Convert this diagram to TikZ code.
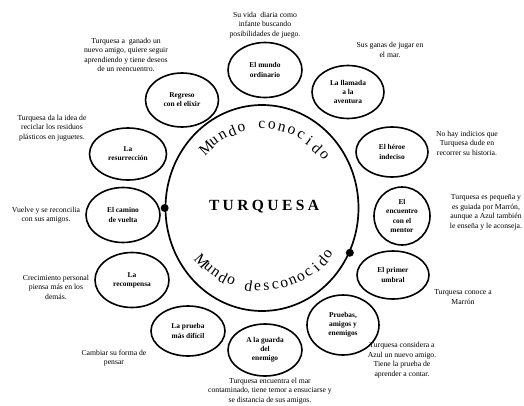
\documentclass[tikz,border=0pt]{standalone}
\usepackage{fontspec}
\setmainfont{Liberation Serif}
\usetikzlibrary{shapes.geometric}
\tikzset{
  stage/.style={ellipse, draw, line width=1.6pt, inner sep=0pt, align=center,
    font=\fontsize{7.4}{9.2}\selectfont\bfseries},
  note/.style={align=center, inner sep=0pt, font=\fontsize{7.7}{9.5}\selectfont},
  arcletter/.style={inner sep=0pt, font=\fontsize{15.5}{17}\selectfont},
  world/.style={ellipse, draw, line width=1.7pt, inner sep=0pt}
}
\begin{document}
\begin{tikzpicture}[x=1pt,y=1pt]
\useasboundingbox (0,0) rectangle (524,-406);

% central circle
\node[world, minimum width=193, minimum height=206] (world) at (262,-208) {};
\fill (world.west) circle (4);
\fill (world.-27) circle (4);
\node[font=\fontsize{15.5}{18}\selectfont\bfseries\addfontfeature{LetterSpace=22}] (title) at (264,-207) {TURQUESA};

% arc texts
\foreach \ch [count=\i from 0] in {M,u,n,d,o,{},c,o,n,o,c,i,d,o}{
  \pgfmathsetmacro\a{134-\i*7.3}
  \node[arcletter, rotate={\a-90}] (top\i) at ({262+80*cos(\a)},{-208+83*sin(\a)}) {\ch};
}
\foreach \ch [count=\i from 0] in {M,u,n,d,o,{},d,e,s,c,o,n,o,c,i,d,o}{
  \pgfmathsetmacro\a{222+\i*6.4}
  \node[arcletter, rotate={\a+90}] (bot\i) at ({262+81*cos(\a)},{-208+79*sin(\a)}) {\ch};
}

% stages
\node[stage, minimum width=74, minimum height=55] (s1) at (265,-70) {El mundo\\ordinario};
\node[stage, minimum width=72, minimum height=53] (s2) at (348,-92) {La llamada\\a la\\aventura};
\node[stage, minimum width=72, minimum height=50] (s3) at (392,-152) {El héroe\\indeciso};
\node[stage, minimum width=56, minimum height=58] (s4) at (402,-216) {El\\encuentro\\con el\\mentor};
\node[stage, minimum width=72, minimum height=48] (s5) at (393,-275) {El primer\\umbral};
\node[stage, minimum width=72, minimum height=60] (s6) at (343,-325) {Pruebas,\\amigos y\\enemigos};
\node[stage, minimum width=74, minimum height=52] (s7) at (265,-350) {A la guarda\\del\\enemigo};
\node[stage, minimum width=74, minimum height=50] (s8) at (188,-331) {La prueba\\más difícil};
\node[stage, minimum width=74, minimum height=55] (s9) at (132,-280) {La\\recompensa};
\node[stage, minimum width=74, minimum height=55] (s10) at (123,-215) {El camino\\de vuelta};
\node[stage, minimum width=77, minimum height=52] (s11) at (128,-154) {La\\resurrección};
\node[stage, minimum width=73, minimum height=54] (s12) at (182,-100) {Regreso\\con el elixir};

% notes
\node[note] (t1) at (265,-25) {Su vida\ \ diaria como\\infante buscando\\posibilidades de juego.};
\node[note] (t2) at (390,-50) {Sus ganas de jugar en\\el mar.};
\node[note] (t3) at (467,-143) {No hay indicios que\\Turquesa dude en\\recorrer su historia.};
\node[note] (t4) at (486,-212) {Turquesa es pequeña y\\es guiada por Marrón,\\aunque a Azul también\\le enseña y le aconseja.};
\node[note] (t5) at (463,-297) {Turquesa conoce a\\Marrón};
\node[note] (t6) at (402,-360) {Turquesa considera a\\Azul un nuevo amigo.\\Tiene la prueba de\\aprender a contar.};
\node[note] (t7) at (270,-391) {Turquesa encuentra el mar\\contaminado, tiene temor a ensuciarse y\\se distancia de sus amigos.};
\node[note] (t8) at (114,-358) {Cambiar su forma de\\pensar};
\node[note] (t9) at (56,-287) {Crecimiento personal\\piensa más en los\\demás.};
\node[note] (t10) at (46,-215) {Vuelve y se reconcilia\\con sus amigos.};
\node[note] (t11) at (52,-128) {Turquesa da la idea de\\reciclar los residuos\\plásticos en juguetes.};
\node[note] (t12) at (126,-55) {Turquesa a\ \ ganado un\\nuevo amigo, quiere seguir\\aprendiendo y tiene deseos\\de un reencuentro.};
\end{tikzpicture}
\end{document}
